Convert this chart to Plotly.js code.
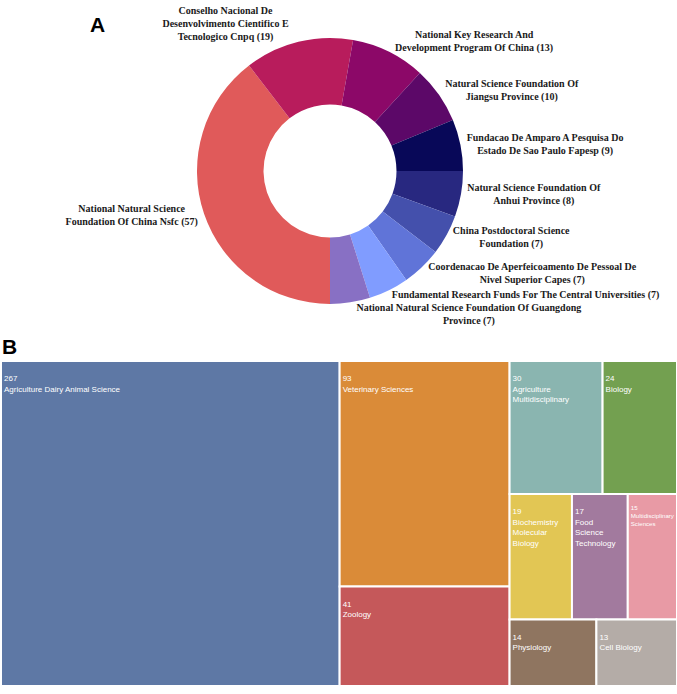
<!DOCTYPE html>
<html>
<head>
<meta charset="utf-8">
<script src="https://cdn.plot.ly/plotly-3.0.1.min.js"></script>
<style>
  html, body { margin: 0; padding: 0; background: #ffffff; }
  #chart { width: 677px; height: 694px; }
</style>
</head>
<body>
<div id="chart"></div>
<script>
// ---- Panel A: funding agencies (donut) ----
const fundLabels = [
  "National Natural Science<br>Foundation Of China Nsfc",
  "Conselho Nacional De<br>Desenvolvimento Cientifico E<br>Tecnologico Cnpq",
  "National Key Research And<br>Development Program Of China",
  "Natural Science Foundation Of<br>Jiangsu Province",
  "Fundacao De Amparo A Pesquisa Do<br>Estado De Sao Paulo Fapesp",
  "Natural Science Foundation Of<br>Anhui Province",
  "China Postdoctoral Science<br>Foundation",
  "Coordenacao De Aperfeicoamento De Pessoal De<br>Nivel Superior Capes",
  "Fundamental Research Funds For The Central Universities",
  "National Natural Science Foundation Of Guangdong<br>Province"
];
const fundValues = [57, 19, 13, 10, 9, 8, 7, 7, 7, 7];
const fundColors = ["#E05A5A", "#B81C5C", "#8C0868", "#5C0868", "#080858",
                    "#282880", "#4450AC", "#6074D8", "#809CFF", "#8870C4"];

// ---- Panel B: research categories (treemap) ----
const catLabels = [
  "Agriculture Dairy Animal Science", "Veterinary Sciences", "Zoology",
  "Agriculture<br>Multidisciplinary", "Biology", "Biochemistry<br>Molecular<br>Biology",
  "Food<br>Science<br>Technology", "Multidisciplinary<br>Sciences", "Physiology", "Cell Biology"
];
const catValues = [267, 93, 41, 30, 24, 19, 17, 15, 14, 13];
const catColors = ["#5E78A5", "#DA8B38", "#C5585A", "#8AB5B0", "#73A050",
                   "#E2C654", "#A27A9E", "#E89AA5", "#8F7560", "#B4ACA7"];

const W = 677, H = 694;
const R = 133, CX = 330, CY = 171;
const labelFont = { family: "Liberation Serif", size: 10, color: "#1a1a1a", weight: "bold" };

const pie = {
  type: "pie",
  labels: fundLabels,
  values: fundValues,
  marker: { colors: fundColors, line: { width: 0 } },
  hole: 0.5,
  sort: false,
  direction: "clockwise",
  rotation: 180,
  textposition: "outside",
  texttemplate: "%{label} (%{value})",
  textfont: labelFont,
  outsidetextfont: labelFont,
  automargin: false,
  showlegend: false,
  hoverinfo: "none",
  domain: { x: [(CX - R) / W, (CX + R) / W], y: [1 - (CY + R) / H, 1 - (CY - R) / H] }
};

const tree = {
  type: "treemap",
  labels: catLabels,
  parents: catLabels.map(() => ""),
  values: catValues,
  marker: { colors: catColors, line: { width: 2, color: "#ffffff" },
            pad: { t: 0, l: 0, r: 0, b: 0 } },
  tiling: { packing: "squarify", squarifyratio: 1.618, pad: 0 },
  pathbar: { visible: false },
  root: { color: "#ffffff" },
  texttemplate: " <br>%{value}<br>%{label}",
  textposition: "top left",
  textfont: { family: "Liberation Sans", size: 8, color: "#ffffff" },
  hoverinfo: "none",
  domain: { x: [1 / W, 677 / W], y: [1 - 686 / H, 1 - 361 / H] }
};

const layout = {
  width: W, height: H,
  margin: { l: 0, r: 0, t: 0, b: 0 },
  paper_bgcolor: "#ffffff",
  showlegend: false,
  annotations: [
    { text: "A", xref: "paper", yref: "paper", x: 88 / W, y: 1 - 11 / H,
      xanchor: "left", yanchor: "top", showarrow: false,
      font: { family: "Liberation Sans", size: 21, color: "#000000", weight: "bold" } },
    { text: "B", xref: "paper", yref: "paper", x: 0 / W, y: 1 - 333 / H,
      xanchor: "left", yanchor: "top", showarrow: false,
      font: { family: "Liberation Sans", size: 21, color: "#000000", weight: "bold" } }
  ]
};

Plotly.newPlot("chart", [pie, tree], layout, { displayModeBar: false, staticPlot: true });
</script>
</body>
</html>
